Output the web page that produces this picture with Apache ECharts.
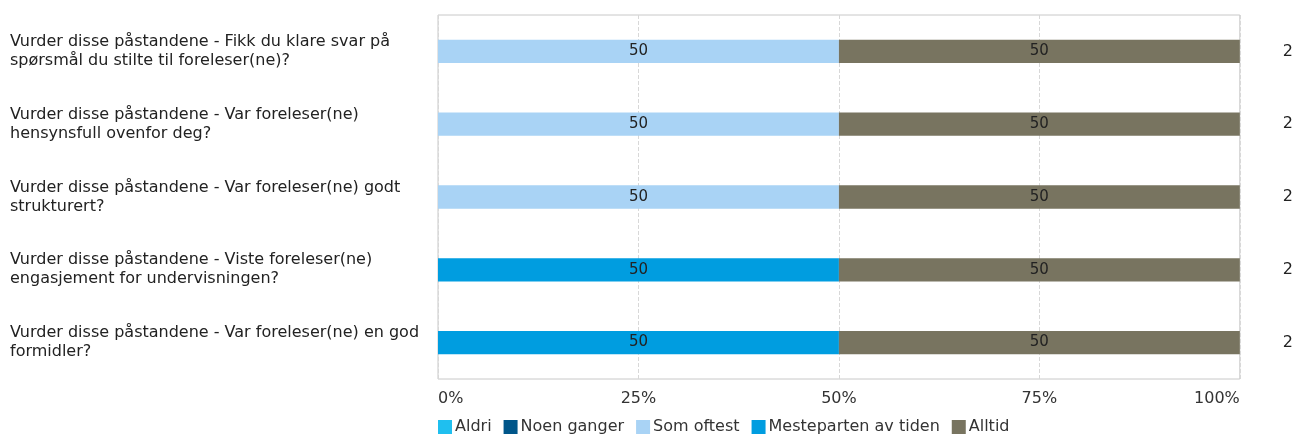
<!DOCTYPE html>
<html>
<head>
<meta charset="utf-8">
<script src="https://cdn.jsdelivr.net/npm/echarts@6/dist/echarts.min.js"></script>
<style>html,body{margin:0;padding:0;background:#fff}#c{width:1296px;height:435px}</style>
</head>
<body>
<div id="c"></div>
<script>
var categories = [
  "Vurder disse påstandene - Fikk du klare svar på\nspørsmål du stilte til foreleser(ne)?",
  "Vurder disse påstandene - Var foreleser(ne)\nhensynsfull ovenfor deg?",
  "Vurder disse påstandene - Var foreleser(ne) godt\nstrukturert?",
  "Vurder disse påstandene - Viste foreleser(ne)\nengasjement for undervisningen?",
  "Vurder disse påstandene - Var foreleser(ne) en god\nformidler?"
];
var counts = ["2", "2", "2", "2", "2"];
var seriesNames = ["Aldri", "Noen ganger", "Som oftest", "Mesteparten av tiden", "Alltid"];
var seriesColors = ["#1fbfef", "#00568a", "#a9d3f5", "#009de0", "#787460"];
var aldri = [0, 0, 0, 0, 0];
var noenGanger = [0, 0, 0, 0, 0];
var somOftest = [50, 50, 50, 0, 0];
var mesteparten = [0, 0, 0, 50, 50];
var alltid = [50, 50, 50, 50, 50];
var xTicks = [0, 25, 50, 75, 100];

var values = [aldri, noenGanger, somOftest, mesteparten, alltid];
var font = "DejaVu Sans";
var chart = echarts.init(document.getElementById('c'));
chart.setOption({
  animation: false,
  textStyle: {fontFamily: font},
  grid: {left: 438, right: 56, top: 15, bottom: 56, show: true, borderColor: '#c8c8c8', borderWidth: 1, containLabel: false},
  legend: {
    left: 438, top: 419, padding: 0, itemWidth: 14, itemHeight: 14, itemGap: 12,
    icon: 'rect',
    textStyle: {fontFamily: font, fontSize: 16, color: '#333', padding: [0, 0, 0, -2]},
    data: seriesNames
  },
  xAxis: {
    type: 'value', min: 0, max: 100, interval: 25,
    axisLine: {show: false}, axisTick: {show: false},
    splitLine: {show: true, lineStyle: {type: 'dashed', color: '#d8d8d8'}},
    axisLabel: {fontFamily: font, fontSize: 16, color: '#333', margin: 12,
      alignMinLabel: 'left', alignMaxLabel: 'right',
      formatter: function (v) { return xTicks.indexOf(v) >= 0 ? v + '%' : ''; }}
  },
  yAxis: [{
    type: 'category', data: categories, inverse: true,
    axisLine: {show: false}, axisTick: {show: false},
    axisLabel: {fontFamily: font, fontSize: 16, color: '#222', align: 'left', margin: 428, lineHeight: 19, padding: [4, 0, 0, 0]}
  }, {
    type: 'category', data: counts, inverse: true, position: 'right',
    axisLine: {show: false}, axisTick: {show: false},
    axisLabel: {fontFamily: font, fontSize: 16, color: '#222', align: 'left', margin: 43}
  }],
  series: seriesNames.map(function (n, i) {
    return {
      name: n, type: 'bar', stack: 'total', barWidth: '32%',
      itemStyle: {color: seriesColors[i]},
      label: {show: true, position: 'inside', color: '#222', fontFamily: font, fontSize: 15,
        formatter: function (p) { return p.value > 0 ? p.value : ''; }},
      data: values[i]
    };
  })
});
</script>
</body>
</html>
